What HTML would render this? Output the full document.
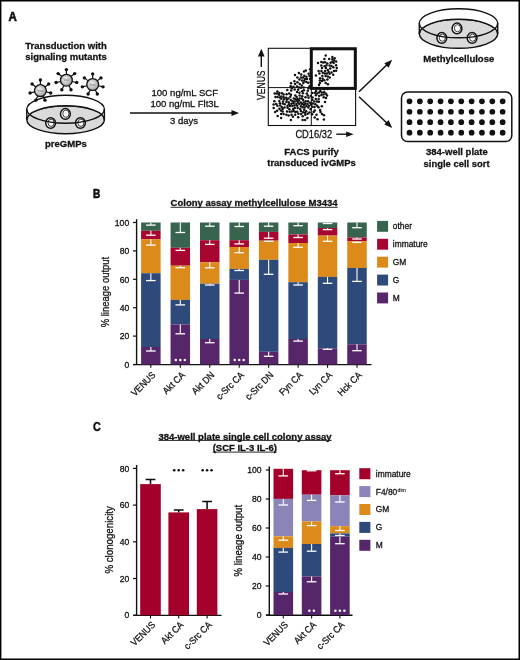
<!DOCTYPE html><html><head><meta charset="utf-8"><title>Figure</title><style>html,body{margin:0;padding:0;background:#fff;}body{width:520px;height:660px;overflow:hidden;font-family:"Liberation Sans",sans-serif;}svg{display:block;will-change:transform;}</style></head><body><svg width="520" height="660" viewBox="0 0 520 660" font-family="Liberation Sans, sans-serif"><defs><radialGradient id="vg" cx="0.4" cy="0.4" r="0.7"><stop offset="0" stop-color="#f2f2f2"/><stop offset="1" stop-color="#9a9a9a"/></radialGradient></defs><style>text{stroke:#111;stroke-width:0.28px;}</style><rect width="520" height="660" fill="#fff"/><rect x="0" y="0" width="520" height="1.5" fill="#000"/>
<rect x="0" y="0" width="1.4" height="660" fill="#000"/>
<rect x="518.5" y="0" width="1.5" height="660" fill="#000"/>
<rect x="0" y="658.5" width="520" height="1.5" fill="#000"/>
<text x="8.5" y="20.6" font-size="12.5" font-weight="bold" text-anchor="start" textLength="8.3" lengthAdjust="spacingAndGlyphs" fill="#111" style="stroke-width:0.6px">A</text>
<text x="92.9" y="198.1" font-size="12.5" font-weight="bold" text-anchor="start" textLength="7.3" lengthAdjust="spacingAndGlyphs" fill="#111" style="stroke-width:0.6px">B</text>
<text x="92.9" y="431.4" font-size="12.5" font-weight="bold" text-anchor="start" textLength="7.8" lengthAdjust="spacingAndGlyphs" fill="#111" style="stroke-width:0.45px">C</text>
<text x="25.3" y="49.2" font-size="9.8" font-weight="bold" text-anchor="start" textLength="81.5" lengthAdjust="spacingAndGlyphs" fill="#111" >Transduction with</text>
<text x="25.3" y="59.8" font-size="9.8" font-weight="bold" text-anchor="start" textLength="81.5" lengthAdjust="spacingAndGlyphs" fill="#111" >signaling mutants</text>
<ellipse cx="65.6" cy="119.8" rx="38.8" ry="14" fill="#dadada" stroke="#111" stroke-width="1.4"/><path d="M26.799999999999997,109.2 A38.8,14 0 0 1 104.39999999999999,109.2 L104.39999999999999,119.8 A38.8,14 0 0 0 26.799999999999997,119.8 Z" fill="#fff" stroke="none"/><path d="M26.799999999999997,119.8 A38.8,14 0 0 1 104.39999999999999,119.8" fill="none" stroke="#111" stroke-width="1.4"/><ellipse cx="65.39999999999999" cy="113.9" rx="4.9" ry="5.3" fill="#fff" stroke="#111" stroke-width="1.5"/><ellipse cx="65.89999999999999" cy="113.7" rx="3.1" ry="3.6" fill="#fff" stroke="#222" stroke-width="0.9"/><ellipse cx="50.599999999999994" cy="123.0" rx="4.9" ry="5.3" fill="#fff" stroke="#111" stroke-width="1.5"/><ellipse cx="51.099999999999994" cy="122.8" rx="3.1" ry="3.6" fill="#fff" stroke="#222" stroke-width="0.9"/><ellipse cx="80.39999999999999" cy="123.0" rx="4.9" ry="5.3" fill="#fff" stroke="#111" stroke-width="1.5"/><ellipse cx="80.89999999999999" cy="122.8" rx="3.1" ry="3.6" fill="#fff" stroke="#222" stroke-width="0.9"/><ellipse cx="65.6" cy="109.2" rx="38.8" ry="14" fill="none" stroke="#111" stroke-width="1.4"/><line x1="26.799999999999997" y1="109.2" x2="26.799999999999997" y2="119.8" stroke="#111" stroke-width="1.4"/><line x1="104.39999999999999" y1="109.2" x2="104.39999999999999" y2="119.8" stroke="#111" stroke-width="1.4"/>
<line x1="40.40" y1="84.80" x2="40.40" y2="80.00" stroke="#111" stroke-width="1.2"/><circle cx="40.40" cy="80.00" r="1.7" fill="#111"/><line x1="44.93" y1="86.98" x2="48.69" y2="83.99" stroke="#111" stroke-width="1.2"/><circle cx="48.69" cy="83.99" r="1.7" fill="#111"/><line x1="46.05" y1="91.89" x2="50.73" y2="92.96" stroke="#111" stroke-width="1.2"/><circle cx="50.73" cy="92.96" r="1.7" fill="#111"/><line x1="42.92" y1="95.83" x2="45.00" y2="100.15" stroke="#111" stroke-width="1.2"/><circle cx="45.00" cy="100.15" r="1.7" fill="#111"/><line x1="37.88" y1="95.83" x2="35.80" y2="100.15" stroke="#111" stroke-width="1.2"/><circle cx="35.80" cy="100.15" r="1.7" fill="#111"/><line x1="34.75" y1="91.89" x2="30.07" y2="92.96" stroke="#111" stroke-width="1.2"/><circle cx="30.07" cy="92.96" r="1.7" fill="#111"/><line x1="35.87" y1="86.98" x2="32.11" y2="83.99" stroke="#111" stroke-width="1.2"/><circle cx="32.11" cy="83.99" r="1.7" fill="#111"/><circle cx="40.4" cy="90.6" r="5.9" fill="url(#vg)" stroke="#111" stroke-width="1.3"/><text x="40.4" y="91.6" font-size="2.6" text-anchor="middle" fill="#666" style="stroke:none">Virus</text>
<line x1="66.40" y1="74.40" x2="66.40" y2="69.60" stroke="#111" stroke-width="1.2"/><circle cx="66.40" cy="69.60" r="1.7" fill="#111"/><line x1="70.93" y1="76.58" x2="74.69" y2="73.59" stroke="#111" stroke-width="1.2"/><circle cx="74.69" cy="73.59" r="1.7" fill="#111"/><line x1="72.05" y1="81.49" x2="76.73" y2="82.56" stroke="#111" stroke-width="1.2"/><circle cx="76.73" cy="82.56" r="1.7" fill="#111"/><line x1="68.92" y1="85.43" x2="71.00" y2="89.75" stroke="#111" stroke-width="1.2"/><circle cx="71.00" cy="89.75" r="1.7" fill="#111"/><line x1="63.88" y1="85.43" x2="61.80" y2="89.75" stroke="#111" stroke-width="1.2"/><circle cx="61.80" cy="89.75" r="1.7" fill="#111"/><line x1="60.75" y1="81.49" x2="56.07" y2="82.56" stroke="#111" stroke-width="1.2"/><circle cx="56.07" cy="82.56" r="1.7" fill="#111"/><line x1="61.87" y1="76.58" x2="58.11" y2="73.59" stroke="#111" stroke-width="1.2"/><circle cx="58.11" cy="73.59" r="1.7" fill="#111"/><circle cx="66.4" cy="80.2" r="5.9" fill="url(#vg)" stroke="#111" stroke-width="1.3"/><text x="66.4" y="81.2" font-size="2.6" text-anchor="middle" fill="#666" style="stroke:none">Virus</text>
<line x1="92.70" y1="78.70" x2="92.70" y2="73.90" stroke="#111" stroke-width="1.2"/><circle cx="92.70" cy="73.90" r="1.7" fill="#111"/><line x1="97.23" y1="80.88" x2="100.99" y2="77.89" stroke="#111" stroke-width="1.2"/><circle cx="100.99" cy="77.89" r="1.7" fill="#111"/><line x1="98.35" y1="85.79" x2="103.03" y2="86.86" stroke="#111" stroke-width="1.2"/><circle cx="103.03" cy="86.86" r="1.7" fill="#111"/><line x1="95.22" y1="89.73" x2="97.30" y2="94.05" stroke="#111" stroke-width="1.2"/><circle cx="97.30" cy="94.05" r="1.7" fill="#111"/><line x1="90.18" y1="89.73" x2="88.10" y2="94.05" stroke="#111" stroke-width="1.2"/><circle cx="88.10" cy="94.05" r="1.7" fill="#111"/><line x1="87.05" y1="85.79" x2="82.37" y2="86.86" stroke="#111" stroke-width="1.2"/><circle cx="82.37" cy="86.86" r="1.7" fill="#111"/><line x1="88.17" y1="80.88" x2="84.41" y2="77.89" stroke="#111" stroke-width="1.2"/><circle cx="84.41" cy="77.89" r="1.7" fill="#111"/><circle cx="92.7" cy="84.5" r="5.9" fill="url(#vg)" stroke="#111" stroke-width="1.3"/><text x="92.7" y="85.5" font-size="2.6" text-anchor="middle" fill="#666" style="stroke:none">Virus</text>
<text x="45.0" y="146.6" font-size="9.9" font-weight="bold" text-anchor="start" textLength="41.8" lengthAdjust="spacingAndGlyphs" fill="#111" >preGMPs</text>
<line x1="130" y1="113.1" x2="233" y2="113.1" stroke="#111" stroke-width="1.5"/>
<path d="M239,113.1 L231.5,110.1 L231.5,116.1 Z" fill="#111"/>
<text x="151.5" y="96.2" font-size="9.4" text-anchor="start" textLength="66.5" lengthAdjust="spacingAndGlyphs" fill="#111" >100 ng/mL SCF</text>
<text x="150.4" y="106.8" font-size="9.4" text-anchor="start" textLength="68.5" lengthAdjust="spacingAndGlyphs" fill="#111" >100 ng/mL Flt3L</text>
<text x="170.0" y="124.0" font-size="9.4" text-anchor="start" textLength="28.0" lengthAdjust="spacingAndGlyphs" fill="#111" >3 days</text>
<rect x="268.3" y="48.3" width="87.3" height="77.2" fill="none" stroke="#111" stroke-width="1.1"/>
<line x1="311.3" y1="48.3" x2="311.3" y2="125.5" stroke="#111" stroke-width="1"/>
<line x1="268.3" y1="87.6" x2="355.6" y2="87.6" stroke="#111" stroke-width="1"/>
<circle cx="292.6" cy="101.2" r="1.25" fill="#111"/>
<circle cx="292.3" cy="106.0" r="1.25" fill="#111"/>
<circle cx="284.7" cy="104.3" r="1.25" fill="#111"/>
<circle cx="307.5" cy="103.8" r="1.25" fill="#111"/>
<circle cx="299.4" cy="104.0" r="1.25" fill="#111"/>
<circle cx="277.5" cy="97.0" r="1.25" fill="#111"/>
<circle cx="300.9" cy="102.4" r="1.25" fill="#111"/>
<circle cx="275.2" cy="111.9" r="1.25" fill="#111"/>
<circle cx="300.2" cy="109.0" r="1.25" fill="#111"/>
<circle cx="289.2" cy="93.6" r="1.25" fill="#111"/>
<circle cx="302.0" cy="98.5" r="1.25" fill="#111"/>
<circle cx="287.6" cy="107.8" r="1.25" fill="#111"/>
<circle cx="302.1" cy="104.0" r="1.25" fill="#111"/>
<circle cx="289.4" cy="109.3" r="1.25" fill="#111"/>
<circle cx="290.3" cy="96.7" r="1.25" fill="#111"/>
<circle cx="286.4" cy="101.9" r="1.25" fill="#111"/>
<circle cx="298.4" cy="113.7" r="1.25" fill="#111"/>
<circle cx="296.6" cy="97.1" r="1.25" fill="#111"/>
<circle cx="293.2" cy="109.0" r="1.25" fill="#111"/>
<circle cx="279.7" cy="97.5" r="1.25" fill="#111"/>
<circle cx="303.1" cy="100.1" r="1.25" fill="#111"/>
<circle cx="311.0" cy="104.6" r="1.25" fill="#111"/>
<circle cx="295.3" cy="112.1" r="1.25" fill="#111"/>
<circle cx="307.4" cy="118.1" r="1.25" fill="#111"/>
<circle cx="279.3" cy="100.9" r="1.25" fill="#111"/>
<circle cx="283.6" cy="97.2" r="1.25" fill="#111"/>
<circle cx="298.0" cy="102.4" r="1.25" fill="#111"/>
<circle cx="312.9" cy="103.4" r="1.25" fill="#111"/>
<circle cx="279.0" cy="94.7" r="1.25" fill="#111"/>
<circle cx="302.7" cy="116.2" r="1.25" fill="#111"/>
<circle cx="293.8" cy="98.4" r="1.25" fill="#111"/>
<circle cx="282.0" cy="93.2" r="1.25" fill="#111"/>
<circle cx="300.9" cy="106.2" r="1.25" fill="#111"/>
<circle cx="287.5" cy="105.9" r="1.25" fill="#111"/>
<circle cx="306.4" cy="105.9" r="1.25" fill="#111"/>
<circle cx="286.2" cy="97.7" r="1.25" fill="#111"/>
<circle cx="310.6" cy="109.3" r="1.25" fill="#111"/>
<circle cx="279.9" cy="103.2" r="1.25" fill="#111"/>
<circle cx="309.5" cy="112.5" r="1.25" fill="#111"/>
<circle cx="307.7" cy="113.7" r="1.25" fill="#111"/>
<circle cx="286.9" cy="99.7" r="1.25" fill="#111"/>
<circle cx="308.0" cy="101.3" r="1.25" fill="#111"/>
<circle cx="303.8" cy="102.4" r="1.25" fill="#111"/>
<circle cx="317.2" cy="105.7" r="1.25" fill="#111"/>
<circle cx="290.0" cy="106.0" r="1.25" fill="#111"/>
<circle cx="295.6" cy="99.2" r="1.25" fill="#111"/>
<circle cx="283.0" cy="101.4" r="1.25" fill="#111"/>
<circle cx="290.8" cy="100.1" r="1.25" fill="#111"/>
<circle cx="297.7" cy="107.9" r="1.25" fill="#111"/>
<circle cx="321.8" cy="106.2" r="1.25" fill="#111"/>
<circle cx="288.9" cy="104.2" r="1.25" fill="#111"/>
<circle cx="305.0" cy="112.8" r="1.25" fill="#111"/>
<circle cx="305.5" cy="97.2" r="1.25" fill="#111"/>
<circle cx="276.2" cy="103.9" r="1.25" fill="#111"/>
<circle cx="301.2" cy="114.1" r="1.25" fill="#111"/>
<circle cx="293.5" cy="103.2" r="1.25" fill="#111"/>
<circle cx="303.8" cy="104.9" r="1.25" fill="#111"/>
<circle cx="295.3" cy="95.6" r="1.25" fill="#111"/>
<circle cx="324.0" cy="115.3" r="1.25" fill="#111"/>
<circle cx="304.7" cy="107.4" r="1.25" fill="#111"/>
<circle cx="297.0" cy="100.7" r="1.25" fill="#111"/>
<circle cx="277.1" cy="110.8" r="1.25" fill="#111"/>
<circle cx="300.9" cy="111.0" r="1.25" fill="#111"/>
<circle cx="282.6" cy="111.4" r="1.25" fill="#111"/>
<circle cx="286.6" cy="94.2" r="1.25" fill="#111"/>
<circle cx="274.7" cy="93.4" r="1.25" fill="#111"/>
<circle cx="308.6" cy="97.7" r="1.25" fill="#111"/>
<circle cx="296.4" cy="104.0" r="1.25" fill="#111"/>
<circle cx="275.5" cy="97.0" r="1.25" fill="#111"/>
<circle cx="312.5" cy="97.5" r="1.25" fill="#111"/>
<circle cx="288.4" cy="98.4" r="1.25" fill="#111"/>
<circle cx="273.7" cy="107.9" r="1.25" fill="#111"/>
<circle cx="288.7" cy="102.3" r="1.25" fill="#111"/>
<circle cx="314.5" cy="107.0" r="1.25" fill="#111"/>
<circle cx="291.8" cy="111.4" r="1.25" fill="#111"/>
<circle cx="277.4" cy="105.8" r="1.25" fill="#111"/>
<circle cx="284.5" cy="107.5" r="1.25" fill="#111"/>
<circle cx="286.4" cy="114.7" r="1.25" fill="#111"/>
<circle cx="302.7" cy="107.2" r="1.25" fill="#111"/>
<circle cx="310.1" cy="102.8" r="1.25" fill="#111"/>
<circle cx="298.2" cy="117.2" r="1.25" fill="#111"/>
<circle cx="314.7" cy="117.6" r="1.25" fill="#111"/>
<circle cx="302.1" cy="91.3" r="1.25" fill="#111"/>
<circle cx="294.5" cy="105.6" r="1.25" fill="#111"/>
<circle cx="325.0" cy="102.0" r="1.25" fill="#111"/>
<circle cx="294.7" cy="101.4" r="1.25" fill="#111"/>
<circle cx="310.9" cy="96.1" r="1.25" fill="#111"/>
<circle cx="318.9" cy="101.8" r="1.25" fill="#111"/>
<circle cx="280.9" cy="110.4" r="1.25" fill="#111"/>
<circle cx="314.4" cy="101.4" r="1.25" fill="#111"/>
<circle cx="274.4" cy="101.3" r="1.25" fill="#111"/>
<circle cx="281.1" cy="117.9" r="1.25" fill="#111"/>
<circle cx="289.7" cy="111.8" r="1.25" fill="#111"/>
<circle cx="294.7" cy="89.5" r="1.25" fill="#111"/>
<circle cx="308.3" cy="107.6" r="1.25" fill="#111"/>
<circle cx="298.1" cy="89.7" r="1.25" fill="#111"/>
<circle cx="299.8" cy="98.6" r="1.25" fill="#111"/>
<circle cx="288.6" cy="115.4" r="1.25" fill="#111"/>
<circle cx="315.3" cy="104.3" r="1.25" fill="#111"/>
<circle cx="306.2" cy="111.2" r="1.25" fill="#111"/>
<circle cx="291.5" cy="114.7" r="1.25" fill="#111"/>
<circle cx="287.0" cy="111.6" r="1.25" fill="#111"/>
<circle cx="312.3" cy="100.1" r="1.25" fill="#111"/>
<circle cx="280.3" cy="105.4" r="1.25" fill="#111"/>
<circle cx="282.6" cy="109.1" r="1.25" fill="#111"/>
<circle cx="290.9" cy="119.9" r="1.25" fill="#111"/>
<circle cx="282.8" cy="103.5" r="1.25" fill="#111"/>
<circle cx="320.1" cy="109.9" r="1.25" fill="#111"/>
<circle cx="305.2" cy="119.9" r="1.25" fill="#111"/>
<circle cx="299.4" cy="92.7" r="1.25" fill="#111"/>
<circle cx="291.2" cy="90.6" r="1.25" fill="#111"/>
<circle cx="277.4" cy="91.6" r="1.25" fill="#111"/>
<circle cx="291.0" cy="94.8" r="1.25" fill="#111"/>
<circle cx="302.9" cy="93.3" r="1.25" fill="#111"/>
<circle cx="323.9" cy="119.5" r="1.25" fill="#111"/>
<circle cx="284.1" cy="99.3" r="1.25" fill="#111"/>
<circle cx="314.8" cy="110.5" r="1.25" fill="#111"/>
<circle cx="304.2" cy="109.8" r="1.25" fill="#111"/>
<circle cx="276.8" cy="93.5" r="1.25" fill="#111"/>
<circle cx="281.1" cy="114.1" r="1.25" fill="#111"/>
<circle cx="299.6" cy="95.4" r="1.25" fill="#111"/>
<circle cx="297.7" cy="98.9" r="1.25" fill="#111"/>
<circle cx="303.9" cy="90.3" r="1.25" fill="#111"/>
<circle cx="305.4" cy="103.8" r="1.25" fill="#111"/>
<circle cx="312.1" cy="114.2" r="1.25" fill="#111"/>
<circle cx="306.8" cy="93.5" r="1.25" fill="#111"/>
<circle cx="283.6" cy="94.4" r="1.25" fill="#111"/>
<circle cx="279.3" cy="92.9" r="1.25" fill="#111"/>
<circle cx="292.9" cy="116.7" r="1.25" fill="#111"/>
<circle cx="320.5" cy="112.0" r="1.25" fill="#111"/>
<circle cx="302.2" cy="96.2" r="1.25" fill="#111"/>
<circle cx="317.5" cy="119.3" r="1.25" fill="#111"/>
<circle cx="281.9" cy="107.3" r="1.25" fill="#111"/>
<circle cx="287.3" cy="89.9" r="1.25" fill="#111"/>
<circle cx="318.5" cy="107.3" r="1.25" fill="#111"/>
<circle cx="308.8" cy="105.8" r="1.25" fill="#111"/>
<circle cx="302.6" cy="120.0" r="1.25" fill="#111"/>
<circle cx="322.0" cy="113.9" r="1.25" fill="#111"/>
<circle cx="291.4" cy="103.8" r="1.25" fill="#111"/>
<circle cx="281.3" cy="98.7" r="1.25" fill="#111"/>
<circle cx="295.2" cy="114.7" r="1.25" fill="#111"/>
<circle cx="307.8" cy="90.8" r="1.25" fill="#111"/>
<circle cx="294.8" cy="107.9" r="1.25" fill="#111"/>
<circle cx="283.6" cy="114.1" r="1.25" fill="#111"/>
<circle cx="305.7" cy="101.2" r="1.25" fill="#111"/>
<circle cx="323.7" cy="97.3" r="1.25" fill="#111"/>
<circle cx="297.0" cy="92.1" r="1.25" fill="#111"/>
<circle cx="293.7" cy="110.9" r="1.25" fill="#111"/>
<circle cx="297.2" cy="111.7" r="1.25" fill="#111"/>
<circle cx="277.7" cy="116.1" r="1.25" fill="#111"/>
<circle cx="317.0" cy="101.5" r="1.25" fill="#111"/>
<circle cx="315.8" cy="99.1" r="1.25" fill="#111"/>
<circle cx="316.5" cy="114.7" r="1.25" fill="#111"/>
<circle cx="305.3" cy="114.7" r="1.25" fill="#111"/>
<circle cx="303.1" cy="112.2" r="1.25" fill="#111"/>
<circle cx="299.0" cy="100.4" r="1.25" fill="#111"/>
<circle cx="318.6" cy="98.9" r="1.25" fill="#111"/>
<circle cx="281.4" cy="96.4" r="1.25" fill="#111"/>
<circle cx="319.2" cy="96.1" r="1.25" fill="#111"/>
<circle cx="312.4" cy="106.8" r="1.25" fill="#111"/>
<circle cx="313.6" cy="112.1" r="1.25" fill="#111"/>
<circle cx="307.8" cy="95.6" r="1.25" fill="#111"/>
<circle cx="279.4" cy="108.7" r="1.25" fill="#111"/>
<circle cx="273.6" cy="104.4" r="1.25" fill="#111"/>
<circle cx="297.2" cy="105.7" r="1.25" fill="#111"/>
<circle cx="303.7" cy="87.5" r="1.25" fill="#111"/>
<circle cx="291.1" cy="83.2" r="1.25" fill="#111"/>
<circle cx="295.1" cy="83.9" r="1.25" fill="#111"/>
<circle cx="301.0" cy="77.6" r="1.25" fill="#111"/>
<circle cx="293.4" cy="86.7" r="1.25" fill="#111"/>
<circle cx="306.3" cy="81.9" r="1.25" fill="#111"/>
<circle cx="297.0" cy="86.6" r="1.25" fill="#111"/>
<circle cx="297.4" cy="82.3" r="1.25" fill="#111"/>
<circle cx="310.8" cy="72.1" r="1.25" fill="#111"/>
<circle cx="310.1" cy="79.0" r="1.25" fill="#111"/>
<circle cx="306.4" cy="76.7" r="1.25" fill="#111"/>
<circle cx="311.3" cy="77.0" r="1.25" fill="#111"/>
<circle cx="301.8" cy="85.4" r="1.25" fill="#111"/>
<circle cx="301.0" cy="87.8" r="1.25" fill="#111"/>
<circle cx="303.4" cy="83.1" r="1.25" fill="#111"/>
<circle cx="302.1" cy="80.6" r="1.25" fill="#111"/>
<circle cx="309.7" cy="86.2" r="1.25" fill="#111"/>
<circle cx="310.9" cy="82.1" r="1.25" fill="#111"/>
<circle cx="308.6" cy="73.8" r="1.25" fill="#111"/>
<circle cx="304.8" cy="78.9" r="1.25" fill="#111"/>
<circle cx="308.2" cy="82.7" r="1.25" fill="#111"/>
<circle cx="309.5" cy="76.0" r="1.25" fill="#111"/>
<circle cx="310.1" cy="69.2" r="1.25" fill="#111"/>
<circle cx="295.0" cy="75.1" r="1.25" fill="#111"/>
<circle cx="294.4" cy="81.2" r="1.25" fill="#111"/>
<circle cx="304.0" cy="71.5" r="1.25" fill="#111"/>
<circle cx="299.7" cy="83.9" r="1.25" fill="#111"/>
<circle cx="291.8" cy="88.3" r="1.25" fill="#111"/>
<circle cx="290.7" cy="86.3" r="1.25" fill="#111"/>
<circle cx="298.9" cy="87.4" r="1.25" fill="#111"/>
<circle cx="301.2" cy="74.6" r="1.25" fill="#111"/>
<circle cx="307.0" cy="79.1" r="1.25" fill="#111"/>
<circle cx="297.4" cy="77.6" r="1.25" fill="#111"/>
<circle cx="299.4" cy="79.6" r="1.25" fill="#111"/>
<circle cx="308.5" cy="88.3" r="1.25" fill="#111"/>
<circle cx="298.9" cy="73.1" r="1.25" fill="#111"/>
<circle cx="304.3" cy="75.7" r="1.25" fill="#111"/>
<circle cx="305.8" cy="70.4" r="1.25" fill="#111"/>
<circle cx="303.1" cy="77.6" r="1.25" fill="#111"/>
<circle cx="304.3" cy="81.0" r="1.25" fill="#111"/>
<circle cx="319.0" cy="92.5" r="1.25" fill="#111"/>
<circle cx="321.4" cy="95.0" r="1.25" fill="#111"/>
<circle cx="321.8" cy="92.5" r="1.25" fill="#111"/>
<circle cx="315.9" cy="95.3" r="1.25" fill="#111"/>
<circle cx="316.1" cy="91.0" r="1.25" fill="#111"/>
<circle cx="327.0" cy="95.5" r="1.25" fill="#111"/>
<circle cx="317.1" cy="93.5" r="1.25" fill="#111"/>
<circle cx="324.2" cy="92.2" r="1.25" fill="#111"/>
<circle cx="315.0" cy="92.7" r="1.25" fill="#111"/>
<circle cx="324.2" cy="89.2" r="1.25" fill="#111"/>
<circle cx="326.0" cy="93.8" r="1.25" fill="#111"/>
<circle cx="320.3" cy="91.0" r="1.25" fill="#111"/>
<circle cx="312.5" cy="93.1" r="1.25" fill="#111"/>
<circle cx="323.5" cy="94.6" r="1.25" fill="#111"/>
<circle cx="326.0" cy="98.0" r="1.25" fill="#111"/>
<circle cx="327.5" cy="89.0" r="1.25" fill="#111"/>
<circle cx="332.3" cy="61.7" r="1.25" fill="#111"/>
<circle cx="336.8" cy="68.1" r="1.25" fill="#111"/>
<circle cx="327.8" cy="70.1" r="1.25" fill="#111"/>
<circle cx="327.8" cy="76.4" r="1.25" fill="#111"/>
<circle cx="324.3" cy="80.2" r="1.25" fill="#111"/>
<circle cx="329.6" cy="65.5" r="1.25" fill="#111"/>
<circle cx="319.4" cy="73.6" r="1.25" fill="#111"/>
<circle cx="325.1" cy="62.3" r="1.25" fill="#111"/>
<circle cx="321.4" cy="71.0" r="1.25" fill="#111"/>
<circle cx="325.6" cy="76.1" r="1.25" fill="#111"/>
<circle cx="325.9" cy="67.9" r="1.25" fill="#111"/>
<circle cx="333.4" cy="67.2" r="1.25" fill="#111"/>
<circle cx="325.7" cy="83.0" r="1.25" fill="#111"/>
<circle cx="321.3" cy="65.6" r="1.25" fill="#111"/>
<circle cx="322.0" cy="81.0" r="1.25" fill="#111"/>
<circle cx="327.4" cy="79.4" r="1.25" fill="#111"/>
<circle cx="322.8" cy="72.8" r="1.25" fill="#111"/>
<circle cx="322.0" cy="68.1" r="1.25" fill="#111"/>
<circle cx="320.1" cy="78.2" r="1.25" fill="#111"/>
<circle cx="330.2" cy="68.4" r="1.25" fill="#111"/>
<circle cx="327.3" cy="63.6" r="1.25" fill="#111"/>
<circle cx="319.9" cy="82.9" r="1.25" fill="#111"/>
<circle cx="332.4" cy="59.3" r="1.25" fill="#111"/>
<circle cx="324.6" cy="66.3" r="1.25" fill="#111"/>
<circle cx="333.2" cy="74.7" r="1.25" fill="#111"/>
<circle cx="331.5" cy="72.5" r="1.25" fill="#111"/>
<circle cx="334.0" cy="70.9" r="1.25" fill="#111"/>
<circle cx="336.1" cy="70.8" r="1.25" fill="#111"/>
<circle cx="329.6" cy="73.8" r="1.25" fill="#111"/>
<circle cx="322.3" cy="76.0" r="1.25" fill="#111"/>
<circle cx="336.1" cy="65.2" r="1.25" fill="#111"/>
<circle cx="334.0" cy="60.4" r="1.25" fill="#111"/>
<circle cx="329.7" cy="77.4" r="1.25" fill="#111"/>
<circle cx="330.6" cy="62.8" r="1.25" fill="#111"/>
<circle cx="332.4" cy="56.9" r="1.25" fill="#111"/>
<circle cx="333.7" cy="63.1" r="1.25" fill="#111"/>
<circle cx="331.5" cy="66.0" r="1.25" fill="#111"/>
<circle cx="326.9" cy="73.4" r="1.25" fill="#111"/>
<circle cx="328.6" cy="71.9" r="1.25" fill="#111"/>
<circle cx="327.9" cy="84.3" r="1.25" fill="#111"/>
<circle cx="325.7" cy="55.6" r="1.25" fill="#111"/>
<circle cx="322.7" cy="78.7" r="1.25" fill="#111"/>
<circle cx="325.2" cy="71.1" r="1.25" fill="#111"/>
<circle cx="334.7" cy="58.2" r="1.25" fill="#111"/>
<circle cx="315.9" cy="75.6" r="1.25" fill="#111"/>
<circle cx="324.8" cy="73.6" r="1.25" fill="#111"/>
<circle cx="324.4" cy="58.9" r="1.25" fill="#111"/>
<circle cx="323.2" cy="62.6" r="1.25" fill="#111"/>
<circle cx="326.4" cy="65.5" r="1.25" fill="#111"/>
<circle cx="319.0" cy="85.0" r="1.25" fill="#111"/>
<circle cx="318.0" cy="63.0" r="1.25" fill="#111"/>
<circle cx="318.6" cy="70.9" r="1.25" fill="#111"/>
<circle cx="321.3" cy="62.1" r="1.25" fill="#111"/>
<circle cx="336.1" cy="61.5" r="1.25" fill="#111"/>
<circle cx="329.2" cy="59.1" r="1.25" fill="#111"/>
<circle cx="319.9" cy="80.5" r="1.25" fill="#111"/>
<rect x="311.3" y="48.8" width="44.0" height="39.6" fill="none" stroke="#111" stroke-width="3"/>
<text transform="translate(265.3,100.0) rotate(-90)" font-size="10.8" textLength="29.6" lengthAdjust="spacingAndGlyphs" fill="#111">VENUS</text>
<line x1="261.3" y1="67" x2="261.3" y2="55" stroke="#111" stroke-width="1.4"/>
<path d="M261.3,48.8 L258.0,56.6 L264.6,56.6 Z" fill="#111"/>
<text x="295.4" y="137.6" font-size="10.8" text-anchor="start" textLength="36.8" lengthAdjust="spacingAndGlyphs" fill="#111" >CD16/32</text>
<line x1="336.3" y1="134.2" x2="348" y2="134.2" stroke="#111" stroke-width="1.4"/>
<path d="M353.6,134.2 L346.2,131.4 L346.2,137.0 Z" fill="#111"/>
<text x="311.5" y="154.5" font-size="9.9" font-weight="bold" text-anchor="middle" textLength="54.5" lengthAdjust="spacingAndGlyphs" fill="#111" >FACS purify</text>
<text x="311.5" y="166.1" font-size="9.9" font-weight="bold" text-anchor="middle" textLength="88.5" lengthAdjust="spacingAndGlyphs" fill="#111" >transduced ivGMPs</text>
<line x1="359" y1="91.8" x2="388.5" y2="63.2" stroke="#111" stroke-width="1.5"/>
<path d="M392.2,59.8 L384.3,63.3 L388.6,67.7 Z" fill="#111"/>
<line x1="359" y1="96.8" x2="388.5" y2="124.5" stroke="#111" stroke-width="1.5"/>
<path d="M392.2,128 L384.3,124.4 L388.6,120 Z" fill="#111"/>
<ellipse cx="458.5" cy="33.8" rx="39.2" ry="14.5" fill="#dadada" stroke="#111" stroke-width="1.4"/><path d="M419.3,23.3 A39.2,14.5 0 0 1 497.7,23.3 L497.7,33.8 A39.2,14.5 0 0 0 419.3,33.8 Z" fill="#fff" stroke="none"/><path d="M419.3,33.8 A39.2,14.5 0 0 1 497.7,33.8" fill="none" stroke="#111" stroke-width="1.4"/><ellipse cx="457.0" cy="28.4" rx="4.9" ry="5.3" fill="#fff" stroke="#111" stroke-width="1.5"/><ellipse cx="457.5" cy="28.2" rx="3.1" ry="3.6" fill="#fff" stroke="#222" stroke-width="0.9"/><ellipse cx="441.8" cy="37.9" rx="4.9" ry="5.3" fill="#fff" stroke="#111" stroke-width="1.5"/><ellipse cx="442.3" cy="37.699999999999996" rx="3.1" ry="3.6" fill="#fff" stroke="#222" stroke-width="0.9"/><ellipse cx="472.1" cy="37.9" rx="4.9" ry="5.3" fill="#fff" stroke="#111" stroke-width="1.5"/><ellipse cx="472.6" cy="37.699999999999996" rx="3.1" ry="3.6" fill="#fff" stroke="#222" stroke-width="0.9"/><ellipse cx="458.5" cy="23.3" rx="39.2" ry="14.5" fill="none" stroke="#111" stroke-width="1.4"/><line x1="419.3" y1="23.3" x2="419.3" y2="33.8" stroke="#111" stroke-width="1.4"/><line x1="497.7" y1="23.3" x2="497.7" y2="33.8" stroke="#111" stroke-width="1.4"/>
<text x="458.8" y="61.5" font-size="9.9" font-weight="bold" text-anchor="middle" textLength="71" lengthAdjust="spacingAndGlyphs" fill="#111" >Methylcellulose</text>
<rect x="401.5" y="91.9" width="110.3" height="49.6" rx="6" ry="6" fill="none" stroke="#111" stroke-width="1.5"/>
<circle cx="409.50" cy="101.30" r="2.85" fill="#111"/>
<circle cx="419.85" cy="101.30" r="2.85" fill="#111"/>
<circle cx="430.20" cy="101.30" r="2.85" fill="#111"/>
<circle cx="440.55" cy="101.30" r="2.85" fill="#111"/>
<circle cx="450.90" cy="101.30" r="2.85" fill="#111"/>
<circle cx="461.25" cy="101.30" r="2.85" fill="#111"/>
<circle cx="471.60" cy="101.30" r="2.85" fill="#111"/>
<circle cx="481.95" cy="101.30" r="2.85" fill="#111"/>
<circle cx="492.30" cy="101.30" r="2.85" fill="#111"/>
<circle cx="502.65" cy="101.30" r="2.85" fill="#111"/>
<circle cx="409.50" cy="111.75" r="2.85" fill="#111"/>
<circle cx="419.85" cy="111.75" r="2.85" fill="#111"/>
<circle cx="430.20" cy="111.75" r="2.85" fill="#111"/>
<circle cx="440.55" cy="111.75" r="2.85" fill="#111"/>
<circle cx="450.90" cy="111.75" r="2.85" fill="#111"/>
<circle cx="461.25" cy="111.75" r="2.85" fill="#111"/>
<circle cx="471.60" cy="111.75" r="2.85" fill="#111"/>
<circle cx="481.95" cy="111.75" r="2.85" fill="#111"/>
<circle cx="492.30" cy="111.75" r="2.85" fill="#111"/>
<circle cx="502.65" cy="111.75" r="2.85" fill="#111"/>
<circle cx="409.50" cy="122.20" r="2.85" fill="#111"/>
<circle cx="419.85" cy="122.20" r="2.85" fill="#111"/>
<circle cx="430.20" cy="122.20" r="2.85" fill="#111"/>
<circle cx="440.55" cy="122.20" r="2.85" fill="#111"/>
<circle cx="450.90" cy="122.20" r="2.85" fill="#111"/>
<circle cx="461.25" cy="122.20" r="2.85" fill="#111"/>
<circle cx="471.60" cy="122.20" r="2.85" fill="#111"/>
<circle cx="481.95" cy="122.20" r="2.85" fill="#111"/>
<circle cx="492.30" cy="122.20" r="2.85" fill="#111"/>
<circle cx="502.65" cy="122.20" r="2.85" fill="#111"/>
<circle cx="409.50" cy="132.65" r="2.85" fill="#111"/>
<circle cx="419.85" cy="132.65" r="2.85" fill="#111"/>
<circle cx="430.20" cy="132.65" r="2.85" fill="#111"/>
<circle cx="440.55" cy="132.65" r="2.85" fill="#111"/>
<circle cx="450.90" cy="132.65" r="2.85" fill="#111"/>
<circle cx="461.25" cy="132.65" r="2.85" fill="#111"/>
<circle cx="471.60" cy="132.65" r="2.85" fill="#111"/>
<circle cx="481.95" cy="132.65" r="2.85" fill="#111"/>
<circle cx="492.30" cy="132.65" r="2.85" fill="#111"/>
<circle cx="502.65" cy="132.65" r="2.85" fill="#111"/>
<text x="456.9" y="154.9" font-size="9.9" font-weight="bold" text-anchor="middle" textLength="61.8" lengthAdjust="spacingAndGlyphs" fill="#111" >384-well plate</text>
<text x="456.6" y="166.9" font-size="9.9" font-weight="bold" text-anchor="middle" textLength="66" lengthAdjust="spacingAndGlyphs" fill="#111" >single cell sort</text>
<text x="170.6" y="205.9" font-size="9.1" font-weight="bold" text-anchor="start" textLength="167" lengthAdjust="spacingAndGlyphs" fill="#111" >Colony assay methylcellulose M3434</text>
<line x1="170.6" y1="207.3" x2="337.7" y2="207.3" stroke="#111" stroke-width="0.9"/>
<line x1="136.6" y1="219.2" x2="136.6" y2="365" stroke="#111" stroke-width="1.4"/>
<line x1="133" y1="364.6" x2="371.5" y2="364.6" stroke="#111" stroke-width="1.4"/>
<line x1="133" y1="364.50" x2="136.6" y2="364.50" stroke="#111" stroke-width="1.2"/>
<text x="129.2" y="367.7" font-size="8.6" text-anchor="end" fill="#111" >0</text>
<line x1="133" y1="336.10" x2="136.6" y2="336.10" stroke="#111" stroke-width="1.2"/>
<text x="129.2" y="339.3" font-size="8.6" text-anchor="end" fill="#111" >20</text>
<line x1="133" y1="307.70" x2="136.6" y2="307.70" stroke="#111" stroke-width="1.2"/>
<text x="129.2" y="310.9" font-size="8.6" text-anchor="end" fill="#111" >40</text>
<line x1="133" y1="279.30" x2="136.6" y2="279.30" stroke="#111" stroke-width="1.2"/>
<text x="129.2" y="282.5" font-size="8.6" text-anchor="end" fill="#111" >60</text>
<line x1="133" y1="250.90" x2="136.6" y2="250.90" stroke="#111" stroke-width="1.2"/>
<text x="129.2" y="254.1" font-size="8.6" text-anchor="end" fill="#111" >80</text>
<line x1="133" y1="222.50" x2="136.6" y2="222.50" stroke="#111" stroke-width="1.2"/>
<text x="129.2" y="225.7" font-size="8.6" text-anchor="end" fill="#111" >100</text>
<text transform="translate(109.0,327.3) rotate(-90)" font-size="10.6" textLength="70.5" lengthAdjust="spacingAndGlyphs" fill="#111">% lineage output</text>
<rect x="141.10" y="222.50" width="19.5" height="8.30" fill="#38644F"/>
<rect x="141.10" y="230.80" width="19.5" height="8.40" fill="#A6062F"/>
<rect x="141.10" y="239.20" width="19.5" height="34.00" fill="#DC8A1A"/>
<rect x="141.10" y="273.20" width="19.5" height="73.80" fill="#2D4A7B"/>
<rect x="141.10" y="347.00" width="19.5" height="17.50" fill="#57256A"/>
<line x1="150.85" y1="222.50" x2="150.85" y2="225.10" stroke="#fff" stroke-width="1.1"/><line x1="146.05" y1="225.10" x2="155.65" y2="225.10" stroke="#fff" stroke-width="1.3"/>
<line x1="150.85" y1="230.80" x2="150.85" y2="235.20" stroke="#fff" stroke-width="1.1"/><line x1="146.05" y1="235.20" x2="155.65" y2="235.20" stroke="#fff" stroke-width="1.3"/>
<line x1="150.85" y1="239.20" x2="150.85" y2="245.10" stroke="#fff" stroke-width="1.1"/><line x1="146.05" y1="245.10" x2="155.65" y2="245.10" stroke="#fff" stroke-width="1.3"/>
<line x1="150.85" y1="273.20" x2="150.85" y2="280.60" stroke="#fff" stroke-width="1.1"/><line x1="146.05" y1="280.60" x2="155.65" y2="280.60" stroke="#fff" stroke-width="1.3"/>
<line x1="150.85" y1="347.00" x2="150.85" y2="351.00" stroke="#fff" stroke-width="1.1"/><line x1="146.05" y1="351.00" x2="155.65" y2="351.00" stroke="#fff" stroke-width="1.3"/>
<line x1="150.85" y1="364.6" x2="150.85" y2="367.8" stroke="#111" stroke-width="1.1"/>
<text transform="translate(156.15,375.60) rotate(-45)" font-size="9.5" text-anchor="end" textLength="29.97" lengthAdjust="spacingAndGlyphs" fill="#111">VENUS</text>
<rect x="170.55" y="222.50" width="19.5" height="25.30" fill="#38644F"/>
<rect x="170.55" y="247.80" width="19.5" height="17.90" fill="#A6062F"/>
<rect x="170.55" y="265.70" width="19.5" height="34.20" fill="#DC8A1A"/>
<rect x="170.55" y="299.90" width="19.5" height="24.50" fill="#2D4A7B"/>
<rect x="170.55" y="324.40" width="19.5" height="40.10" fill="#57256A"/>
<line x1="180.30" y1="222.50" x2="180.30" y2="232.50" stroke="#fff" stroke-width="1.1"/><line x1="175.50" y1="232.50" x2="185.10" y2="232.50" stroke="#fff" stroke-width="1.3"/>
<line x1="180.30" y1="247.80" x2="180.30" y2="250.40" stroke="#fff" stroke-width="1.1"/><line x1="175.50" y1="250.40" x2="185.10" y2="250.40" stroke="#fff" stroke-width="1.3"/>
<line x1="180.30" y1="265.70" x2="180.30" y2="267.70" stroke="#fff" stroke-width="1.1"/><line x1="175.50" y1="267.70" x2="185.10" y2="267.70" stroke="#fff" stroke-width="1.3"/>
<line x1="180.30" y1="299.90" x2="180.30" y2="304.90" stroke="#fff" stroke-width="1.1"/><line x1="175.50" y1="304.90" x2="185.10" y2="304.90" stroke="#fff" stroke-width="1.3"/>
<line x1="180.30" y1="324.40" x2="180.30" y2="333.80" stroke="#fff" stroke-width="1.1"/><line x1="175.50" y1="333.80" x2="185.10" y2="333.80" stroke="#fff" stroke-width="1.3"/>
<circle cx="175.80" cy="360.0" r="1.25" fill="#fff"/><circle cx="180.30" cy="360.0" r="1.25" fill="#fff"/><circle cx="184.80" cy="360.0" r="1.25" fill="#fff"/>
<line x1="180.30" y1="364.6" x2="180.30" y2="367.8" stroke="#111" stroke-width="1.1"/>
<text transform="translate(185.60,375.60) rotate(-45)" font-size="9.5" text-anchor="end" textLength="27.07" lengthAdjust="spacingAndGlyphs" fill="#111">Akt CA</text>
<rect x="200.00" y="222.50" width="19.5" height="17.70" fill="#38644F"/>
<rect x="200.00" y="240.20" width="19.5" height="22.10" fill="#A6062F"/>
<rect x="200.00" y="262.30" width="19.5" height="21.40" fill="#DC8A1A"/>
<rect x="200.00" y="283.70" width="19.5" height="55.30" fill="#2D4A7B"/>
<rect x="200.00" y="339.00" width="19.5" height="25.50" fill="#57256A"/>
<line x1="209.75" y1="222.50" x2="209.75" y2="226.20" stroke="#fff" stroke-width="1.1"/><line x1="204.95" y1="226.20" x2="214.55" y2="226.20" stroke="#fff" stroke-width="1.3"/>
<line x1="209.75" y1="240.20" x2="209.75" y2="244.40" stroke="#fff" stroke-width="1.1"/><line x1="204.95" y1="244.40" x2="214.55" y2="244.40" stroke="#fff" stroke-width="1.3"/>
<line x1="209.75" y1="262.30" x2="209.75" y2="267.80" stroke="#fff" stroke-width="1.1"/><line x1="204.95" y1="267.80" x2="214.55" y2="267.80" stroke="#fff" stroke-width="1.3"/>
<line x1="209.75" y1="283.70" x2="209.75" y2="285.00" stroke="#fff" stroke-width="1.1"/><line x1="204.95" y1="285.00" x2="214.55" y2="285.00" stroke="#fff" stroke-width="1.3"/>
<line x1="209.75" y1="339.00" x2="209.75" y2="342.70" stroke="#fff" stroke-width="1.1"/><line x1="204.95" y1="342.70" x2="214.55" y2="342.70" stroke="#fff" stroke-width="1.3"/>
<line x1="209.75" y1="364.6" x2="209.75" y2="367.8" stroke="#111" stroke-width="1.1"/>
<text transform="translate(215.05,375.60) rotate(-45)" font-size="9.5" text-anchor="end" textLength="27.55" lengthAdjust="spacingAndGlyphs" fill="#111">Akt DN</text>
<rect x="229.45" y="222.50" width="19.5" height="17.70" fill="#38644F"/>
<rect x="229.45" y="240.20" width="19.5" height="6.80" fill="#A6062F"/>
<rect x="229.45" y="247.00" width="19.5" height="21.90" fill="#DC8A1A"/>
<rect x="229.45" y="268.90" width="19.5" height="11.00" fill="#2D4A7B"/>
<rect x="229.45" y="279.90" width="19.5" height="84.60" fill="#57256A"/>
<line x1="239.20" y1="222.50" x2="239.20" y2="226.50" stroke="#fff" stroke-width="1.1"/><line x1="234.40" y1="226.50" x2="244.00" y2="226.50" stroke="#fff" stroke-width="1.3"/>
<line x1="239.20" y1="240.20" x2="239.20" y2="243.90" stroke="#fff" stroke-width="1.1"/><line x1="234.40" y1="243.90" x2="244.00" y2="243.90" stroke="#fff" stroke-width="1.3"/>
<line x1="239.20" y1="247.00" x2="239.20" y2="252.70" stroke="#fff" stroke-width="1.1"/><line x1="234.40" y1="252.70" x2="244.00" y2="252.70" stroke="#fff" stroke-width="1.3"/>
<line x1="239.20" y1="268.90" x2="239.20" y2="270.50" stroke="#fff" stroke-width="1.1"/><line x1="234.40" y1="270.50" x2="244.00" y2="270.50" stroke="#fff" stroke-width="1.3"/>
<line x1="239.20" y1="279.90" x2="239.20" y2="293.10" stroke="#fff" stroke-width="1.1"/><line x1="234.40" y1="293.10" x2="244.00" y2="293.10" stroke="#fff" stroke-width="1.3"/>
<circle cx="234.70" cy="360.0" r="1.25" fill="#fff"/><circle cx="239.20" cy="360.0" r="1.25" fill="#fff"/><circle cx="243.70" cy="360.0" r="1.25" fill="#fff"/>
<line x1="239.20" y1="364.6" x2="239.20" y2="367.8" stroke="#111" stroke-width="1.1"/>
<text transform="translate(244.50,375.60) rotate(-45)" font-size="9.5" text-anchor="end" textLength="34.80" lengthAdjust="spacingAndGlyphs" fill="#111">c-Src CA</text>
<rect x="258.90" y="222.50" width="19.5" height="9.40" fill="#38644F"/>
<rect x="258.90" y="231.90" width="19.5" height="8.80" fill="#A6062F"/>
<rect x="258.90" y="240.70" width="19.5" height="19.10" fill="#DC8A1A"/>
<rect x="258.90" y="259.80" width="19.5" height="92.00" fill="#2D4A7B"/>
<rect x="258.90" y="351.80" width="19.5" height="12.70" fill="#57256A"/>
<line x1="268.65" y1="222.50" x2="268.65" y2="226.20" stroke="#fff" stroke-width="1.1"/><line x1="263.85" y1="226.20" x2="273.45" y2="226.20" stroke="#fff" stroke-width="1.3"/>
<line x1="268.65" y1="231.90" x2="268.65" y2="238.20" stroke="#fff" stroke-width="1.1"/><line x1="263.85" y1="238.20" x2="273.45" y2="238.20" stroke="#fff" stroke-width="1.3"/>
<line x1="268.65" y1="240.70" x2="268.65" y2="241.30" stroke="#fff" stroke-width="1.1"/><line x1="263.85" y1="241.30" x2="273.45" y2="241.30" stroke="#fff" stroke-width="1.3"/>
<line x1="268.65" y1="259.80" x2="268.65" y2="274.30" stroke="#fff" stroke-width="1.1"/><line x1="263.85" y1="274.30" x2="273.45" y2="274.30" stroke="#fff" stroke-width="1.3"/>
<line x1="268.65" y1="351.80" x2="268.65" y2="356.30" stroke="#fff" stroke-width="1.1"/><line x1="263.85" y1="356.30" x2="273.45" y2="356.30" stroke="#fff" stroke-width="1.3"/>
<line x1="268.65" y1="364.6" x2="268.65" y2="367.8" stroke="#111" stroke-width="1.1"/>
<text transform="translate(273.95,375.60) rotate(-45)" font-size="9.5" text-anchor="end" textLength="35.28" lengthAdjust="spacingAndGlyphs" fill="#111">c-Src DN</text>
<rect x="288.35" y="222.50" width="19.5" height="12.00" fill="#38644F"/>
<rect x="288.35" y="234.50" width="19.5" height="8.50" fill="#A6062F"/>
<rect x="288.35" y="243.00" width="19.5" height="39.20" fill="#DC8A1A"/>
<rect x="288.35" y="282.20" width="19.5" height="56.80" fill="#2D4A7B"/>
<rect x="288.35" y="339.00" width="19.5" height="25.50" fill="#57256A"/>
<line x1="298.10" y1="222.50" x2="298.10" y2="225.70" stroke="#fff" stroke-width="1.1"/><line x1="293.30" y1="225.70" x2="302.90" y2="225.70" stroke="#fff" stroke-width="1.3"/>
<line x1="298.10" y1="234.50" x2="298.10" y2="237.50" stroke="#fff" stroke-width="1.1"/><line x1="293.30" y1="237.50" x2="302.90" y2="237.50" stroke="#fff" stroke-width="1.3"/>
<line x1="298.10" y1="243.00" x2="298.10" y2="247.30" stroke="#fff" stroke-width="1.1"/><line x1="293.30" y1="247.30" x2="302.90" y2="247.30" stroke="#fff" stroke-width="1.3"/>
<line x1="298.10" y1="282.20" x2="298.10" y2="285.00" stroke="#fff" stroke-width="1.1"/><line x1="293.30" y1="285.00" x2="302.90" y2="285.00" stroke="#fff" stroke-width="1.3"/>
<line x1="298.10" y1="339.00" x2="298.10" y2="341.10" stroke="#fff" stroke-width="1.1"/><line x1="293.30" y1="341.10" x2="302.90" y2="341.10" stroke="#fff" stroke-width="1.3"/>
<line x1="298.10" y1="364.6" x2="298.10" y2="367.8" stroke="#111" stroke-width="1.1"/>
<text transform="translate(303.40,375.60) rotate(-45)" font-size="9.5" text-anchor="end" textLength="29.01" lengthAdjust="spacingAndGlyphs" fill="#111">Fyn CA</text>
<rect x="317.80" y="222.50" width="19.5" height="5.50" fill="#38644F"/>
<rect x="317.80" y="228.00" width="19.5" height="7.60" fill="#A6062F"/>
<rect x="317.80" y="235.60" width="19.5" height="41.30" fill="#DC8A1A"/>
<rect x="317.80" y="276.90" width="19.5" height="71.40" fill="#2D4A7B"/>
<rect x="317.80" y="348.30" width="19.5" height="16.20" fill="#57256A"/>
<line x1="327.55" y1="222.50" x2="327.55" y2="223.50" stroke="#fff" stroke-width="1.1"/><line x1="322.75" y1="223.50" x2="332.35" y2="223.50" stroke="#fff" stroke-width="1.3"/>
<line x1="327.55" y1="228.00" x2="327.55" y2="229.60" stroke="#fff" stroke-width="1.1"/><line x1="322.75" y1="229.60" x2="332.35" y2="229.60" stroke="#fff" stroke-width="1.3"/>
<line x1="327.55" y1="235.60" x2="327.55" y2="241.30" stroke="#fff" stroke-width="1.1"/><line x1="322.75" y1="241.30" x2="332.35" y2="241.30" stroke="#fff" stroke-width="1.3"/>
<line x1="327.55" y1="276.90" x2="327.55" y2="283.30" stroke="#fff" stroke-width="1.1"/><line x1="322.75" y1="283.30" x2="332.35" y2="283.30" stroke="#fff" stroke-width="1.3"/>
<line x1="327.55" y1="348.30" x2="327.55" y2="349.30" stroke="#fff" stroke-width="1.1"/><line x1="322.75" y1="349.30" x2="332.35" y2="349.30" stroke="#fff" stroke-width="1.3"/>
<line x1="327.55" y1="364.6" x2="327.55" y2="367.8" stroke="#111" stroke-width="1.1"/>
<text transform="translate(332.85,375.60) rotate(-45)" font-size="9.5" text-anchor="end" textLength="28.21" lengthAdjust="spacingAndGlyphs" fill="#111">Lyn CA</text>
<rect x="347.25" y="222.50" width="19.5" height="15.00" fill="#38644F"/>
<rect x="347.25" y="237.50" width="19.5" height="3.80" fill="#A6062F"/>
<rect x="347.25" y="241.30" width="19.5" height="26.70" fill="#DC8A1A"/>
<rect x="347.25" y="268.00" width="19.5" height="76.30" fill="#2D4A7B"/>
<rect x="347.25" y="344.30" width="19.5" height="20.20" fill="#57256A"/>
<line x1="357.00" y1="222.50" x2="357.00" y2="227.70" stroke="#fff" stroke-width="1.1"/><line x1="352.20" y1="227.70" x2="361.80" y2="227.70" stroke="#fff" stroke-width="1.3"/>
<line x1="357.00" y1="237.50" x2="357.00" y2="239.00" stroke="#fff" stroke-width="1.1"/><line x1="352.20" y1="239.00" x2="361.80" y2="239.00" stroke="#fff" stroke-width="1.3"/>
<line x1="357.00" y1="241.30" x2="357.00" y2="242.40" stroke="#fff" stroke-width="1.1"/><line x1="352.20" y1="242.40" x2="361.80" y2="242.40" stroke="#fff" stroke-width="1.3"/>
<line x1="357.00" y1="268.00" x2="357.00" y2="281.40" stroke="#fff" stroke-width="1.1"/><line x1="352.20" y1="281.40" x2="361.80" y2="281.40" stroke="#fff" stroke-width="1.3"/>
<line x1="357.00" y1="344.30" x2="357.00" y2="350.70" stroke="#fff" stroke-width="1.1"/><line x1="352.20" y1="350.70" x2="361.80" y2="350.70" stroke="#fff" stroke-width="1.3"/>
<line x1="357.00" y1="364.6" x2="357.00" y2="367.8" stroke="#111" stroke-width="1.1"/>
<text transform="translate(362.30,375.60) rotate(-45)" font-size="9.5" text-anchor="end" textLength="29.48" lengthAdjust="spacingAndGlyphs" fill="#111">Hck CA</text>
<rect x="377.1" y="220.90" width="11" height="10.9" fill="#38644F"/>
<text x="392.8" y="229.20000000000002" font-size="8.9" text-anchor="start" textLength="19.14" lengthAdjust="spacingAndGlyphs" fill="#111" >other</text>
<rect x="377.1" y="238.80" width="11" height="10.9" fill="#A6062F"/>
<text x="392.8" y="247.10000000000002" font-size="8.9" text-anchor="start" textLength="35.0" lengthAdjust="spacingAndGlyphs" fill="#111" >immature</text>
<rect x="377.1" y="256.70" width="11" height="10.9" fill="#DC8A1A"/>
<text x="392.8" y="265.0" font-size="8.9" text-anchor="start" textLength="13.53" lengthAdjust="spacingAndGlyphs" fill="#111" >GM</text>
<rect x="377.1" y="274.60" width="11" height="10.9" fill="#2D4A7B"/>
<text x="392.8" y="282.90000000000003" font-size="8.9" text-anchor="start" textLength="6.54" lengthAdjust="spacingAndGlyphs" fill="#111" >G</text>
<rect x="377.1" y="292.50" width="11" height="10.9" fill="#57256A"/>
<text x="392.8" y="300.8" font-size="8.9" text-anchor="start" textLength="7.0" lengthAdjust="spacingAndGlyphs" fill="#111" >M</text>
<text x="245" y="439.6" font-size="9.1" font-weight="bold" text-anchor="middle" textLength="173.2" lengthAdjust="spacingAndGlyphs" fill="#111" >384-well plate single cell colony assay</text>
<line x1="158.5" y1="440.4" x2="331.7" y2="440.4" stroke="#111" stroke-width="0.9"/>
<text x="244.8" y="450.8" font-size="9.1" font-weight="bold" text-anchor="middle" textLength="64.3" lengthAdjust="spacingAndGlyphs" fill="#111" >(SCF IL-3 IL-6)</text>
<line x1="212.7" y1="452.1" x2="276.9" y2="452.1" stroke="#111" stroke-width="0.9"/>
<line x1="136.6" y1="465" x2="136.6" y2="615.6" stroke="#111" stroke-width="1.4"/>
<line x1="133.5" y1="615.4" x2="221.5" y2="615.4" stroke="#111" stroke-width="1.4"/>
<line x1="133" y1="615.20" x2="136.6" y2="615.20" stroke="#111" stroke-width="1.2"/>
<text x="129.2" y="618.4000000000001" font-size="8.6" text-anchor="end" fill="#111" >0</text>
<line x1="133" y1="578.50" x2="136.6" y2="578.50" stroke="#111" stroke-width="1.2"/>
<text x="129.2" y="581.7" font-size="8.6" text-anchor="end" fill="#111" >20</text>
<line x1="133" y1="541.80" x2="136.6" y2="541.80" stroke="#111" stroke-width="1.2"/>
<text x="129.2" y="545.0000000000001" font-size="8.6" text-anchor="end" fill="#111" >40</text>
<line x1="133" y1="505.10" x2="136.6" y2="505.10" stroke="#111" stroke-width="1.2"/>
<text x="129.2" y="508.3" font-size="8.6" text-anchor="end" fill="#111" >60</text>
<line x1="133" y1="468.40" x2="136.6" y2="468.40" stroke="#111" stroke-width="1.2"/>
<text x="129.2" y="471.6" font-size="8.6" text-anchor="end" fill="#111" >80</text>
<text transform="translate(112.9,573.6) rotate(-90)" font-size="10.6" textLength="67.5" lengthAdjust="spacingAndGlyphs" fill="#111">% clonogenicity</text>
<rect x="140.2" y="484.1" width="20.6" height="131.10" fill="#A3002B"/>
<line x1="150.50" y1="484.10" x2="150.50" y2="479.50" stroke="#0a0a0a" stroke-width="1.5"/><line x1="145.60" y1="479.50" x2="155.40" y2="479.50" stroke="#0a0a0a" stroke-width="1.5"/>
<line x1="150.50" y1="615.4" x2="150.50" y2="618.5" stroke="#111" stroke-width="1.1"/>
<text transform="translate(155.80,625.40) rotate(-45)" font-size="9.5" text-anchor="end" textLength="29.97" lengthAdjust="spacingAndGlyphs" fill="#111">VENUS</text>
<rect x="168.4" y="512.4" width="20.6" height="102.80" fill="#A3002B"/>
<line x1="178.70" y1="512.40" x2="178.70" y2="510.00" stroke="#0a0a0a" stroke-width="1.5"/><line x1="173.80" y1="510.00" x2="183.60" y2="510.00" stroke="#0a0a0a" stroke-width="1.5"/>
<circle cx="174.25" cy="470.3" r="1.3" fill="#111"/><circle cx="178.70" cy="470.3" r="1.3" fill="#111"/><circle cx="183.15" cy="470.3" r="1.3" fill="#111"/>
<line x1="178.70" y1="615.4" x2="178.70" y2="618.5" stroke="#111" stroke-width="1.1"/>
<text transform="translate(184.00,625.40) rotate(-45)" font-size="9.5" text-anchor="end" textLength="27.07" lengthAdjust="spacingAndGlyphs" fill="#111">Akt CA</text>
<rect x="196.8" y="509.1" width="20.6" height="106.10" fill="#A3002B"/>
<line x1="207.10" y1="509.10" x2="207.10" y2="501.50" stroke="#0a0a0a" stroke-width="1.5"/><line x1="202.20" y1="501.50" x2="212.00" y2="501.50" stroke="#0a0a0a" stroke-width="1.5"/>
<circle cx="202.65" cy="470.3" r="1.3" fill="#111"/><circle cx="207.10" cy="470.3" r="1.3" fill="#111"/><circle cx="211.55" cy="470.3" r="1.3" fill="#111"/>
<line x1="207.10" y1="615.4" x2="207.10" y2="618.5" stroke="#111" stroke-width="1.1"/>
<text transform="translate(212.40,625.40) rotate(-45)" font-size="9.5" text-anchor="end" textLength="34.80" lengthAdjust="spacingAndGlyphs" fill="#111">c-Src CA</text>
<line x1="269.3" y1="466.6" x2="269.3" y2="615.5" stroke="#111" stroke-width="1.4"/>
<line x1="266.2" y1="615.3" x2="352.5" y2="615.3" stroke="#111" stroke-width="1.4"/>
<line x1="265.8" y1="615.00" x2="269.3" y2="615.00" stroke="#111" stroke-width="1.2"/>
<text x="261.6" y="618.2" font-size="8.6" text-anchor="end" fill="#111" >0</text>
<line x1="265.8" y1="586.00" x2="269.3" y2="586.00" stroke="#111" stroke-width="1.2"/>
<text x="261.6" y="589.2" font-size="8.6" text-anchor="end" fill="#111" >20</text>
<line x1="265.8" y1="557.00" x2="269.3" y2="557.00" stroke="#111" stroke-width="1.2"/>
<text x="261.6" y="560.2" font-size="8.6" text-anchor="end" fill="#111" >40</text>
<line x1="265.8" y1="528.00" x2="269.3" y2="528.00" stroke="#111" stroke-width="1.2"/>
<text x="261.6" y="531.2" font-size="8.6" text-anchor="end" fill="#111" >60</text>
<line x1="265.8" y1="499.00" x2="269.3" y2="499.00" stroke="#111" stroke-width="1.2"/>
<text x="261.6" y="502.2" font-size="8.6" text-anchor="end" fill="#111" >80</text>
<line x1="265.8" y1="470.00" x2="269.3" y2="470.00" stroke="#111" stroke-width="1.2"/>
<text x="261.6" y="473.2" font-size="8.6" text-anchor="end" fill="#111" >100</text>
<text transform="translate(241.8,576.4) rotate(-90)" font-size="10.6" textLength="71.5" lengthAdjust="spacingAndGlyphs" fill="#111">% lineage output</text>
<rect x="273.50" y="468.80" width="19.6" height="30.10" fill="#A3002B"/>
<rect x="273.50" y="498.90" width="19.6" height="37.40" fill="#8A84B8"/>
<rect x="273.50" y="536.30" width="19.6" height="11.60" fill="#DC8A1A"/>
<rect x="273.50" y="547.90" width="19.6" height="44.10" fill="#2D4A7B"/>
<rect x="273.50" y="592.00" width="19.6" height="23.00" fill="#57256A"/>
<line x1="283.30" y1="468.80" x2="283.30" y2="475.90" stroke="#fff" stroke-width="1.1"/><line x1="278.50" y1="475.90" x2="288.10" y2="475.90" stroke="#fff" stroke-width="1.3"/>
<line x1="283.30" y1="498.90" x2="283.30" y2="505.00" stroke="#fff" stroke-width="1.1"/><line x1="278.50" y1="505.00" x2="288.10" y2="505.00" stroke="#fff" stroke-width="1.3"/>
<line x1="283.30" y1="536.30" x2="283.30" y2="540.20" stroke="#fff" stroke-width="1.1"/><line x1="278.50" y1="540.20" x2="288.10" y2="540.20" stroke="#fff" stroke-width="1.3"/>
<line x1="283.30" y1="547.90" x2="283.30" y2="552.10" stroke="#fff" stroke-width="1.1"/><line x1="278.50" y1="552.10" x2="288.10" y2="552.10" stroke="#fff" stroke-width="1.3"/>
<line x1="283.30" y1="592.00" x2="283.30" y2="594.00" stroke="#fff" stroke-width="1.1"/><line x1="278.50" y1="594.00" x2="288.10" y2="594.00" stroke="#fff" stroke-width="1.3"/>
<line x1="283.30" y1="615.3" x2="283.30" y2="618.5" stroke="#111" stroke-width="1.1"/>
<text transform="translate(288.60,625.40) rotate(-45)" font-size="9.5" text-anchor="end" textLength="29.97" lengthAdjust="spacingAndGlyphs" fill="#111">VENUS</text>
<rect x="301.80" y="470.20" width="19.6" height="24.50" fill="#A3002B"/>
<rect x="301.80" y="494.70" width="19.6" height="26.70" fill="#8A84B8"/>
<rect x="301.80" y="521.40" width="19.6" height="22.60" fill="#DC8A1A"/>
<rect x="301.80" y="544.00" width="19.6" height="32.40" fill="#2D4A7B"/>
<rect x="301.80" y="576.40" width="19.6" height="38.60" fill="#57256A"/>
<line x1="311.60" y1="470.20" x2="311.60" y2="470.80" stroke="#fff" stroke-width="1.1"/><line x1="306.80" y1="470.80" x2="316.40" y2="470.80" stroke="#fff" stroke-width="1.3"/>
<line x1="311.60" y1="494.70" x2="311.60" y2="500.40" stroke="#fff" stroke-width="1.1"/><line x1="306.80" y1="500.40" x2="316.40" y2="500.40" stroke="#fff" stroke-width="1.3"/>
<line x1="311.60" y1="521.40" x2="311.60" y2="525.60" stroke="#fff" stroke-width="1.1"/><line x1="306.80" y1="525.60" x2="316.40" y2="525.60" stroke="#fff" stroke-width="1.3"/>
<line x1="311.60" y1="544.00" x2="311.60" y2="551.20" stroke="#fff" stroke-width="1.1"/><line x1="306.80" y1="551.20" x2="316.40" y2="551.20" stroke="#fff" stroke-width="1.3"/>
<line x1="311.60" y1="576.40" x2="311.60" y2="581.80" stroke="#fff" stroke-width="1.1"/><line x1="306.80" y1="581.80" x2="316.40" y2="581.80" stroke="#fff" stroke-width="1.3"/>
<circle cx="309.35" cy="610.8" r="1.25" fill="#fff"/><circle cx="313.85" cy="610.8" r="1.25" fill="#fff"/>
<line x1="311.60" y1="615.3" x2="311.60" y2="618.5" stroke="#111" stroke-width="1.1"/>
<text transform="translate(316.90,625.40) rotate(-45)" font-size="9.5" text-anchor="end" textLength="27.07" lengthAdjust="spacingAndGlyphs" fill="#111">Akt CA</text>
<rect x="330.10" y="470.20" width="19.6" height="25.10" fill="#A3002B"/>
<rect x="330.10" y="495.30" width="19.6" height="30.90" fill="#8A84B8"/>
<rect x="330.10" y="526.20" width="19.6" height="7.20" fill="#DC8A1A"/>
<rect x="330.10" y="533.40" width="19.6" height="3.30" fill="#2D4A7B"/>
<rect x="330.10" y="536.70" width="19.6" height="78.30" fill="#57256A"/>
<line x1="339.90" y1="470.20" x2="339.90" y2="473.70" stroke="#fff" stroke-width="1.1"/><line x1="335.10" y1="473.70" x2="344.70" y2="473.70" stroke="#fff" stroke-width="1.3"/>
<line x1="339.90" y1="495.30" x2="339.90" y2="502.00" stroke="#fff" stroke-width="1.1"/><line x1="335.10" y1="502.00" x2="344.70" y2="502.00" stroke="#fff" stroke-width="1.3"/>
<line x1="339.90" y1="526.20" x2="339.90" y2="530.50" stroke="#fff" stroke-width="1.1"/><line x1="335.10" y1="530.50" x2="344.70" y2="530.50" stroke="#fff" stroke-width="1.3"/>
<line x1="339.90" y1="533.40" x2="339.90" y2="535.50" stroke="#fff" stroke-width="1.1"/><line x1="335.10" y1="535.50" x2="344.70" y2="535.50" stroke="#fff" stroke-width="1.3"/>
<line x1="339.90" y1="536.70" x2="339.90" y2="543.70" stroke="#fff" stroke-width="1.1"/><line x1="335.10" y1="543.70" x2="344.70" y2="543.70" stroke="#fff" stroke-width="1.3"/>
<circle cx="335.40" cy="610.8" r="1.25" fill="#fff"/><circle cx="339.90" cy="610.8" r="1.25" fill="#fff"/><circle cx="344.40" cy="610.8" r="1.25" fill="#fff"/>
<line x1="339.90" y1="615.3" x2="339.90" y2="618.5" stroke="#111" stroke-width="1.1"/>
<text transform="translate(345.20,625.40) rotate(-45)" font-size="9.5" text-anchor="end" textLength="34.80" lengthAdjust="spacingAndGlyphs" fill="#111">c-Src CA</text>
<rect x="359.3" y="468.20" width="11.1" height="11" fill="#A3002B"/>
<text x="375.8" y="476.59999999999997" font-size="8.9" text-anchor="start" textLength="35.0" lengthAdjust="spacingAndGlyphs" fill="#111" >immature</text>
<rect x="359.3" y="486.10" width="11.1" height="11" fill="#8A84B8"/>
<text x="375.8" y="494.49999999999994" font-size="8.9" text-anchor="start" textLength="21.48" lengthAdjust="spacingAndGlyphs" fill="#111" >F4/80</text>
<text x="397.5788" y="491.79999999999995" font-size="5.8" text-anchor="start" textLength="8.3" lengthAdjust="spacingAndGlyphs" fill="#111" style="stroke-width:0.15px">dim</text>
<rect x="359.3" y="504.00" width="11.1" height="11" fill="#DC8A1A"/>
<text x="375.8" y="512.4" font-size="8.9" text-anchor="start" textLength="13.53" lengthAdjust="spacingAndGlyphs" fill="#111" >GM</text>
<rect x="359.3" y="521.90" width="11.1" height="11" fill="#2D4A7B"/>
<text x="375.8" y="530.3" font-size="8.9" text-anchor="start" textLength="6.54" lengthAdjust="spacingAndGlyphs" fill="#111" >G</text>
<rect x="359.3" y="539.80" width="11.1" height="11" fill="#57256A"/>
<text x="375.8" y="548.1999999999999" font-size="8.9" text-anchor="start" textLength="7.0" lengthAdjust="spacingAndGlyphs" fill="#111" >M</text></svg></body></html>
